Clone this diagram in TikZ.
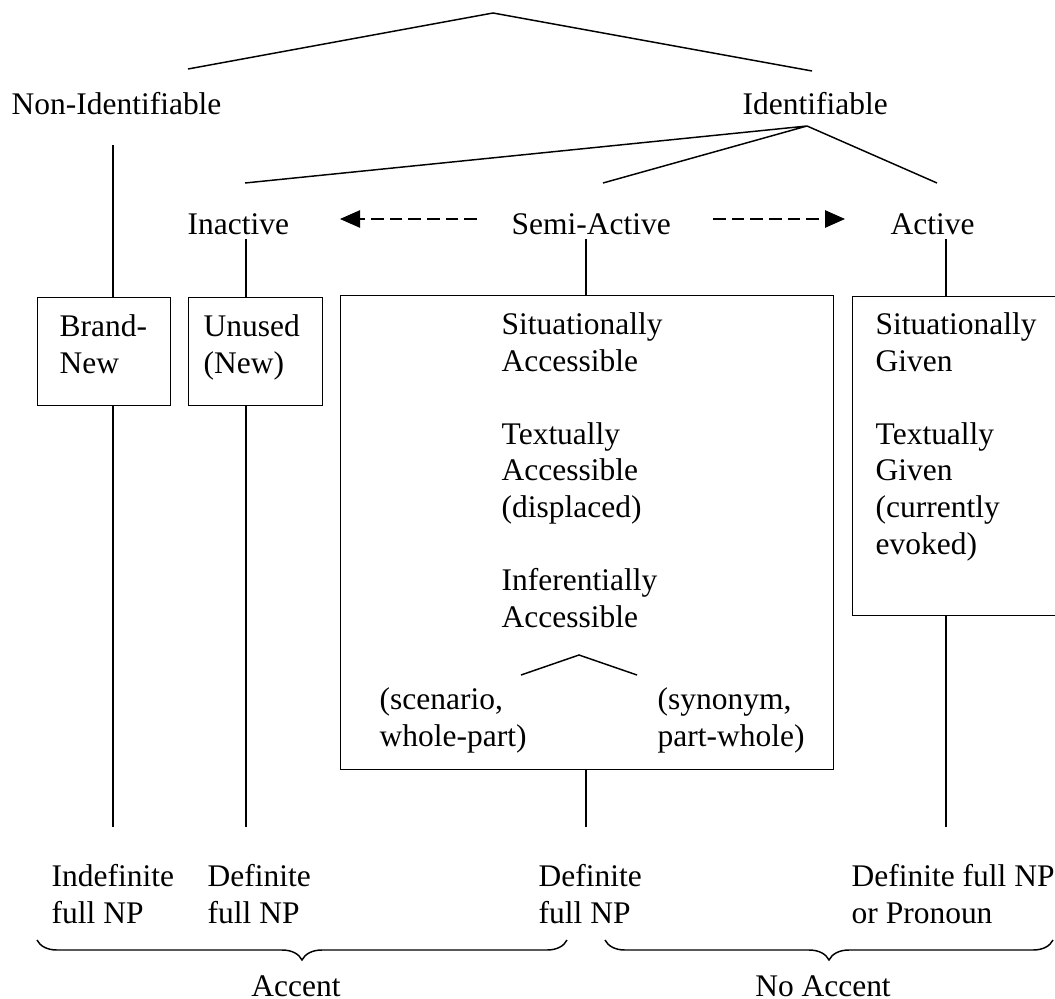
\documentclass[tikz,border=0pt]{standalone}
\usepackage{fontspec}
\setmainfont{Liberation Serif}
\usetikzlibrary{arrows.meta,decorations.pathreplacing}

\begin{document}
\begin{tikzpicture}[
    x=0.75pt, y=-0.75pt,
    font=\fontsize{23.6}{27.4}\selectfont, line width=1.1pt,
    etiq/.style={anchor=base west, inner sep=0pt, align=left},
    caja/.style={draw, anchor=north west, inner sep=0pt},
    flecha/.style={-{Triangle[length=15pt,width=13pt]}, dash pattern=on 9.5pt off 4.5pt},
    llave/.style={decorate, decoration={brace, mirror, amplitude=15pt}}
  ]
    \useasboundingbox (0,0) rectangle (1055,998);
    \clip (0,0) rectangle (1055,998);

    % --- RAIZ ---
    \coordinate (raiz) at (493,13);
    \coordinate (noidsup) at (188,69);
    \coordinate (idsup) at (812,71);
    \draw (noidsup) -- (raiz) -- (idsup);

    \node[etiq] (noid) at (11,115) {Non-Identifiable};
    \node[etiq] (id) at (742,115) {Identifiable};

    % --- RAMAS DE IDENTIFIABLE ---
    \coordinate (idinf) at (807,126);
    \coordinate (inasup) at (245,183);
    \coordinate (semisup) at (603,183);
    \coordinate (actsup) at (937,183);
    \draw (inasup) -- (idinf) -- (semisup);
    \draw (idinf) -- (actsup);

    \node[etiq] (ina) at (187,235) {Inactive};
    \node[etiq] (semi) at (511,235) {Semi-Active};
    \node[etiq] (act) at (890,235) {Active};

    % flechas punteadas
    \coordinate (fizqa) at (477,219);
    \coordinate (fizqb) at (340,219);
    \coordinate (fdera) at (713,219);
    \coordinate (fderb) at (845,219);
    \draw[flecha] (fizqa) -- (fizqb);
    \draw[flecha] (fdera) -- (fderb);

    % --- CAJAS ---
    \node[caja, minimum width=99.75pt, minimum height=81pt] (bn) at (37,297) {};
    \node[caja, minimum width=100.5pt, minimum height=81pt] (un) at (188,297) {};
    \node[caja, minimum width=369.75pt, minimum height=355.5pt] (sa) at (340,295) {};
    \node[caja, minimum width=160pt, minimum height=239.25pt] (ag) at (852,296) {};

    % (el ancla base es la de la ultima linea)
    \node[etiq] (bntxt) at (59,373.5) {Brand-\\New};
    \node[etiq] (untxt) at (203,373.5) {Unused\\(New)};
    \node[etiq] (satxt) at (501,627) {Situationally\\Accessible\\[27.4pt]Textually\\Accessible\\(displaced)\\[27.4pt]Inferentially\\Accessible};
    \node[etiq] (agtxt) at (875,554) {Situationally\\Given\\[27.4pt]Textually\\Given\\(currently\\evoked)};

    % subarbol de Inferentially Accessible
    \coordinate (infinf) at (579,655);
    \coordinate (escsup) at (521,675);
    \coordinate (sinsup) at (637,675);
    \draw (escsup) -- (infinf) -- (sinsup);
    \node[etiq] (esc) at (379,746.5) {(scenario,\\whole-part)};
    \node[etiq] (sin) at (657,746.5) {(synonym,\\part-whole)};

    % --- LINEAS VERTICALES ---
    \coordinate (col1) at (113,145);
    \coordinate (col2) at (246,239);
    \coordinate (col3) at (586,239);
    \coordinate (col4) at (946,239);
    \coordinate (fondo) at (0,827);
    \draw (col1) -- (col1 |- bn.north);
    \draw (col2) -- (col2 |- un.north);
    \draw (col3) -- (col3 |- sa.north);
    \draw (col4) -- (col4 |- ag.north);
    \draw (col1 |- bn.south) -- (col1 |- fondo);
    \draw (col2 |- un.south) -- (col2 |- fondo);
    \draw (col3 |- sa.south) -- (col3 |- fondo);
    \draw (col4 |- ag.south) -- (col4 |- fondo);

    % --- FORMAS DE REALIZACION ---
    \node[etiq] (indef) at (51,923.5) {Indefinite\\full NP};
    \node[etiq] (defa) at (207,923.5) {Definite\\full NP};
    \node[etiq] (defb) at (538,923.5) {Definite\\full NP};
    \node[etiq] (defpro) at (851,923.5) {Definite full NP\\or Pronoun};

    % --- LLAVES ---
    \coordinate (lla) at (37,940);
    \coordinate (llb) at (567,940);
    \coordinate (llc) at (605,940);
    \coordinate (lld) at (1053,940);
    \draw[llave] (lla) -- (llb);
    \draw[llave] (llc) -- (lld);
    \node[anchor=base, inner sep=0pt] (acento) at (296,996) {Accent};
    \node[anchor=base, inner sep=0pt] (sinacento) at (823,996) {No Accent};

\end{tikzpicture}
\end{document}
